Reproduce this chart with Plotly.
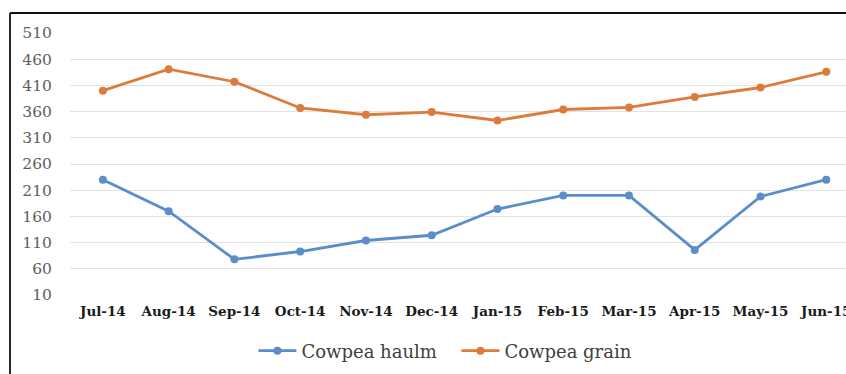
import plotly.graph_objects as go

months = ["Jul-14", "Aug-14", "Sep-14", "Oct-14", "Nov-14", "Dec-14",
          "Jan-15", "Feb-15", "Mar-15", "Apr-15", "May-15", "Jun-15"]
cowpea_haulm = [230, 170, 78, 93, 114, 124, 174, 200, 200, 96, 198, 230]
cowpea_grain = [400, 441, 417, 367, 354, 359, 343, 364, 368, 388, 406, 436]
y_ticks = [10, 60, 110, 160, 210, 260, 310, 360, 410, 460, 510]

W, H = 846, 374
ML, MR, MT, MB = 70, 0, 33, 79
plot_w = W - ML - MR
plot_h = H - MT - MB

SERIF = "DejaVu Serif, Liberation Serif, serif"
BLUE = "#5b8dca"
ORANGE = "#dc7b3c"

fig = go.Figure()
fig.add_trace(go.Scatter(
    x=list(range(len(months))), y=cowpea_haulm, name="Cowpea haulm",
    mode="lines+markers",
    line=dict(color=BLUE, width=2.8),
    marker=dict(color=BLUE, size=8),
))
fig.add_trace(go.Scatter(
    x=list(range(len(months))), y=cowpea_grain, name="Cowpea grain",
    mode="lines+markers",
    line=dict(color=ORANGE, width=2.8),
    marker=dict(color=ORANGE, size=8),
))

# outer frame: left and top edges (the others run off the page)
frame_left = (10 - ML) / plot_w
frame_top = (H - MB - 13) / plot_h
frame_line = dict(color="#111111", width=1.8)
fig.add_shape(type="line", xref="paper", yref="paper",
              x0=frame_left, x1=frame_left, y0=-0.5, y1=frame_top,
              line=frame_line, layer="above")
fig.add_shape(type="line", xref="paper", yref="paper",
              x0=frame_left, x1=1.2, y0=frame_top, y1=frame_top,
              line=frame_line, layer="above")

fig.update_layout(
    width=W, height=H,
    margin=dict(l=ML, r=MR, t=MT, b=MB),
    paper_bgcolor="white", plot_bgcolor="white",
    font=dict(family=SERIF),
    showlegend=True,
    legend=dict(
        orientation="h", x=0.498, xanchor="center",
        y=(H - MB - 351) / plot_h, yanchor="middle",
        font=dict(size=18, color="#404040", family=SERIF),
        itemwidth=38, tracegroupgap=0,
        entrywidth=150, entrywidthmode="pixels",
    ),
    xaxis=dict(
        tickmode="array", tickvals=list(range(len(months))), ticktext=months,
        range=[-0.5, 11.3], showgrid=False, zeroline=False, showline=False,
        automargin=False,
        ticks="outside", ticklen=4, tickcolor="rgba(0,0,0,0)",
        ticklabeloverflow="allow",
        tickfont=dict(size=13.5, color="#1a1a1a", family=SERIF, weight="bold"),
    ),
    yaxis=dict(
        range=[10, 510], tickmode="array", tickvals=y_ticks,
        showgrid=True, gridcolor="#e2e2e2", gridwidth=1,
        zeroline=False, showline=False, automargin=False,
        ticks="outside", ticklen=14, tickcolor="rgba(0,0,0,0)",
        tickfont=dict(size=15.5, color="#5e5e5e", family=SERIF),
    ),
)

fig.write_html("out.html")
